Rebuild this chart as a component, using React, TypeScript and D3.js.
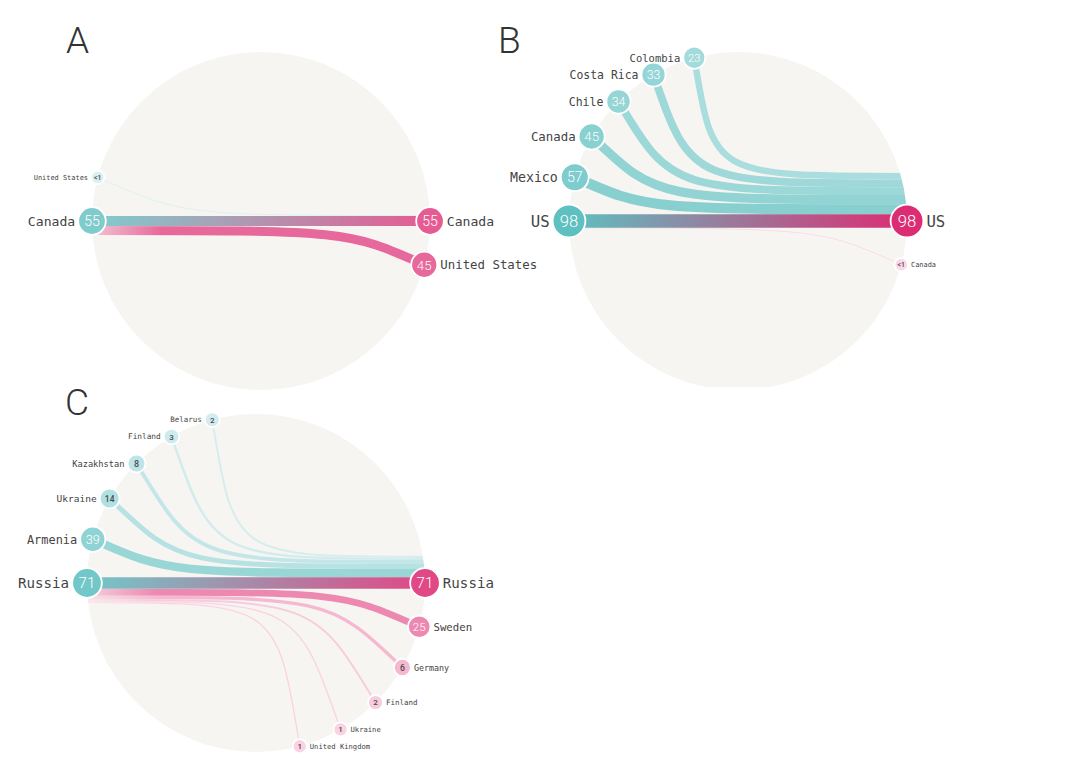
import React from "react";
import * as d3 from "d3";

// ---------- DATA ----------
const panelLetters = ["A", "B", "C"];
const mainCountries = ["Canada", "US", "Russia"];
const mainValues = [55, 98, 71];

// inflows: origins (left side) flowing into the main destination
const inNamesA = ["United States"];
const inValuesA = [0.5];
const inLabelsA = ["<1"];
const outNamesA = ["United States"];
const outValuesA = [45];
const outLabelsA = ["45"];

const inNamesB = ["Mexico", "Canada", "Chile", "Costa Rica", "Colombia"];
const inValuesB = [57, 45, 34, 33, 23];
const inLabelsB = ["57", "45", "34", "33", "23"];
const outNamesB = ["Canada"];
const outValuesB = [0.5];
const outLabelsB = ["<1"];

const inNamesC = ["Armenia", "Ukraine", "Kazakhstan", "Finland", "Belarus"];
const inValuesC = [39, 14, 8, 3, 2];
const inLabelsC = ["39", "14", "8", "3", "2"];
const outNamesC = ["Sweden", "Germany", "Finland", "Ukraine", "United Kingdom"];
const outValuesC = [25, 6, 2, 1, 1];
const outLabelsC = ["25", "6", "2", "1", "1"];

const panelsData = [
  { ins: [inNamesA, inValuesA, inLabelsA], outs: [outNamesA, outValuesA, outLabelsA] },
  { ins: [inNamesB, inValuesB, inLabelsB], outs: [outNamesB, outValuesB, outLabelsB] },
  { ins: [inNamesC, inValuesC, inLabelsC], outs: [outNamesC, outValuesC, outLabelsC] },
];

// ---------- LAYOUT ----------
const R = 169;
const layout = [
  { cx: 261, cy: 221, lx: 66, ly: 53, clipBottom: 1000 },
  { cx: 738, cy: 221, lx: 498, ly: 53, clipBottom: 387 },
  { cx: 256, cy: 583, lx: 65, ly: 415, clipBottom: 1000 },
];
const STEP = (15 * Math.PI) / 180;
const F = 0.6;

const widthScale = d3.scaleSqrt().domain([0, 100]).range([0, 13.5]);
const radiusScale = d3.scaleSqrt().domain([0, 100]).range([6, 16.5]);
const fontScale = d3.scalePow().exponent(0.57).domain([0, 100]).range([6.5, 15.8]);
const tealScale = d3.scaleSqrt<string>().domain([0, 100]).range(["#e4f3f7", "#5dbfbf"]);
const pinkScale = d3.scaleSqrt<string>().domain([0, 100]).range(["#fde6ef", "#dc2a72"]);

const LABEL_FONT = "'DejaVu Sans Mono', monospace";
const NUM_FONT = "Roboto, 'Noto Sans', sans-serif";

function Node({ x, y, v, label, name, side, color }) {
  const r = radiusScale(v);
  const fs = fontScale(v);
  const numFs = v >= 20 ? r * 1.02 : Math.max(8, r * 1.0);
  return (
    <g>
      <circle cx={x} cy={y} r={r} fill={color} stroke="#fff" strokeWidth={1.8} />
      <text
        x={x}
        y={y}
        dy="0.36em"
        textAnchor="middle"
        fontFamily={NUM_FONT}
        fontWeight={v >= 20 ? 300 : 500}
        fontSize={label.length > 1 && v < 20 ? numFs * 0.85 : numFs}
        fill={v >= 20 ? "#fff" : "#4a4a4a"}
      >
        {label}
      </text>
      <text
        x={side === "left" ? x - r - 3 : x + r + 3}
        y={y}
        dy="0.36em"
        textAnchor={side === "left" ? "end" : "start"}
        fontFamily={LABEL_FONT}
        fontSize={fs}
        fill="#444"
      >
        {name}
      </text>
    </g>
  );
}

function Panel({ idx }) {
  const { cx, cy, lx, ly, clipBottom } = layout[idx];
  const [inNames, inValues, inLabels] = panelsData[idx].ins;
  const [outNames, outValues, outLabels] = panelsData[idx].outs;
  const mainV = mainValues[idx];
  const mainName = mainCountries[idx];
  const xL = cx - R;
  const xR = cx + R;
  const wMain = widthScale(mainV);
  const id = `p${idx}`;

  let cum = 0;
  const inflows = inValues.map((v, i) => {
    const a = STEP * (i + 1);
    const x0 = cx - R * Math.cos(a);
    const y0 = cy - R * Math.sin(a);
    const w = widthScale(v);
    const yE = cy - wMain / 2 - cum - w / 2;
    cum += w;
    const dy = yE - y0;
    const cX = x0 + (dy / Math.tan(a)) * F;
    const path = d3.path();
    path.moveTo(x0, y0);
    path.bezierCurveTo(cX, yE, cX, yE, xR, yE);
    return { v, x0, y0, w, d: path.toString(), name: inNames[i], label: inLabels[i] };
  });

  cum = 0;
  const outflows = outValues.map((v, i) => {
    const a = STEP * (i + 1);
    const x1 = cx + R * Math.cos(a);
    const y1 = cy + R * Math.sin(a);
    const w = widthScale(v);
    const yS = cy + wMain / 2 + cum + w / 2;
    cum += w;
    const dy = y1 - yS;
    const cX = x1 - (dy / Math.tan(a)) * F;
    const path = d3.path();
    path.moveTo(xL, yS);
    path.bezierCurveTo(cX, yS, cX, yS, x1, y1);
    return { v, x1, y1, w, d: path.toString(), name: outNames[i], label: outLabels[i] };
  });

  const mainPath = d3.path();
  mainPath.moveTo(xL, cy);
  mainPath.lineTo(xR, cy);

  return (
    <g>
      <defs>
        <clipPath id={`${id}-bg`}>
          <rect x={cx - R - 5} y={cy - R - 5} width={2 * R + 10} height={clipBottom - (cy - R - 5)} />
        </clipPath>
        <clipPath id={`${id}-circ`}>
          <circle cx={cx} cy={cy} r={R} />
        </clipPath>
        <linearGradient id={`${id}-main`} gradientUnits="userSpaceOnUse" x1={xL} x2={xR} y1={0} y2={0}>
          <stop offset="0%" stopColor={tealScale(mainV)} />
          <stop offset="100%" stopColor={pinkScale(mainV)} />
        </linearGradient>
        {outflows.map((o, i) => (
          <linearGradient key={i} id={`${id}-out${i}`} gradientUnits="userSpaceOnUse" x1={xL} x2={xL + 70} y1={0} y2={0}>
            <stop offset="0%" stopColor={pinkScale(o.v)} stopOpacity={0.35} />
            <stop offset="100%" stopColor={pinkScale(o.v)} stopOpacity={1} />
          </linearGradient>
        ))}
      </defs>
      <g clipPath={`url(#${id}-bg)`}>
        <circle cx={cx} cy={cy} r={R} fill="#f7f5f2" />
      </g>
      <g clipPath={`url(#${id}-circ)`}>
        {inflows
          .slice()
          .reverse()
          .map((f, i) => (
            <path key={`in${i}`} d={f.d} fill="none" stroke={tealScale(f.v)} strokeOpacity={0.92} strokeWidth={Math.max(f.w, 0.8)} />
          ))}
        {outflows
          .slice()
          .reverse()
          .map((f, i) => (
            <path
              key={`out${i}`}
              d={f.d}
              fill="none"
              stroke={`url(#${id}-out${outflows.length - 1 - i})`}
              strokeWidth={Math.max(f.w, 0.8)}
            />
          ))}
        <path d={mainPath.toString()} stroke={`url(#${id}-main)`} strokeWidth={wMain} fill="none" />
      </g>
      {inflows.map((f, i) => (
        <Node key={`ni${i}`} x={f.x0} y={f.y0} v={f.v} label={f.label} name={f.name} side="left" color={tealScale(f.v)} />
      ))}
      {outflows.map((f, i) => (
        <Node key={`no${i}`} x={f.x1} y={f.y1} v={f.v} label={f.label} name={f.name} side="right" color={pinkScale(f.v)} />
      ))}
      <Node x={xL} y={cy} v={mainV} label={String(mainV)} name={mainName} side="left" color={tealScale(mainV)} />
      <Node x={xR} y={cy} v={mainV} label={String(mainV)} name={mainName} side="right" color={pinkScale(mainV)} />
      <text x={lx} y={ly} fontFamily={NUM_FONT} fontWeight={300} fontSize={37} fill="#333">
        {panelLetters[idx]}
      </text>
    </g>
  );
}

export default function App() {
  return (
    <svg width={1092} height={768} style={{ position: "absolute", left: 0, top: 0, background: "#fff" }}>
      <rect width={1092} height={768} fill="#fff" />
      {layout.map((_, i) => (
        <Panel key={i} idx={i} />
      ))}
    </svg>
  );
}
